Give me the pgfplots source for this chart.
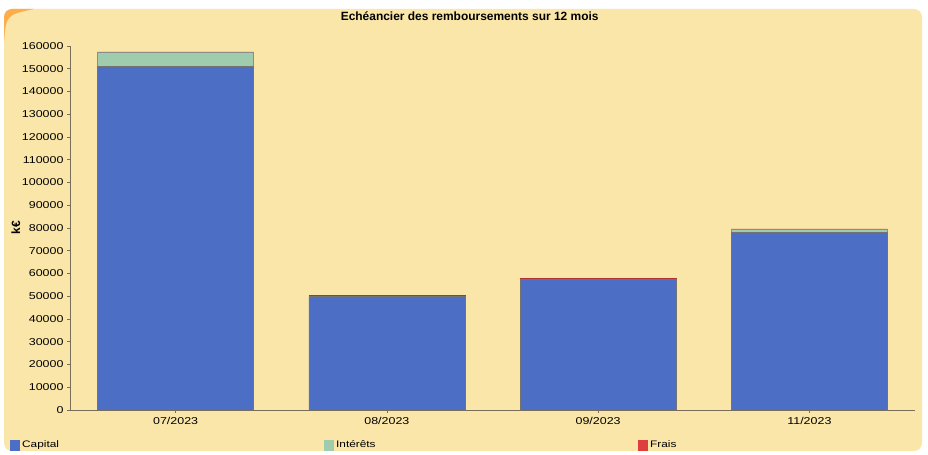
\documentclass[border=0pt]{standalone}
\usepackage{pgfplots}
\pgfplotsset{compat=1.18}
\usepackage{fontspec}
\setmainfont{Liberation Sans}
\newfontfamily\widefont[FakeStretch=1.25]{Liberation Sans}
\definecolor{bgyellow}{RGB}{250,230,168}
\definecolor{capcol}{RGB}{76,110,196}
\definecolor{intcol}{RGB}{158,204,172}
\definecolor{fraiscol}{RGB}{222,62,62}
\definecolor{axcol}{RGB}{120,110,90}
\begin{document}
\begin{tikzpicture}[x=1bp,y=1bp]
\useasboundingbox (0,0) rectangle (928,455);
\fill[white] (0,0) rectangle (928,455);
\fill[bgyellow, rounded corners=8bp] (4,4) rectangle (922,446);
\fill[orange!55!bgyellow] (4,412) .. controls (6,440) .. (34,446) -- (12,446) arc[start angle=90, end angle=180, radius=8] -- cycle;
\begin{axis}[
  at={(70bp,45bp)}, anchor=south west,
  scale only axis, width=845bp, height=364bp,
  xmin=-0.5, xmax=3.5, ymin=0, ymax=160000,
  axis x line*=bottom, axis y line*=left,
  axis line style={axcol, line width=0.6bp},
  ybar stacked, bar width=156bp,
  xtick={0,1,2,3}, xticklabels={07/2023,08/2023,09/2023,11/2023},
  ytick={0,10000,...,160000},
  scaled y ticks=false,
  /pgf/number format/assume math mode=true,
  yticklabel style={/pgf/number format/fixed, /pgf/number format/1000 sep={}},
  tick align=outside, major tick length=3bp,
  tick style={axcol, line width=0.5bp},
  tick label style={font=\widefont\fontsize{10}{11}\selectfont, black},
  xticklabel style={yshift=-1bp},
  ylabel={\bfseries k€},
  ylabel style={font=\fontsize{12}{14}\selectfont, at={(axis description cs:-0.064,0.5)}, anchor=center},
  title={Echéancier des remboursements sur 12 mois},
  title style={font=\bfseries\fontsize{12}{14}\selectfont, at={(axis description cs:0.473,1.066)}, anchor=center},
  legend columns=3,
  legend style={draw=none, fill=none, inner sep=0pt, font=\widefont\fontsize{9.5}{11}\selectfont,
    at={(axis description cs:-0.071,-0.095)}, anchor=west,
    /tikz/every even column/.append style={column sep=0bp}},
  legend image code/.code={\draw[#1, draw=none] (0bp,-6bp) rectangle (10bp,5bp);},
]
\addplot[draw=black!55, line width=0.4bp, fill=capcol]
  coordinates {(0,151000) (1,49800) (2,57300) (3,78100)};
\addlegendentry{\makebox[300bp][l]{Capital}}
\addplot[draw=black!45, line width=0.4bp, fill=intcol]
  coordinates {(0,6100) (1,200) (2,200) (3,1200)};
\addlegendentry{\makebox[300bp][l]{Intérêts}}
\addplot[draw=fraiscol!80!black, line width=0.4bp, fill=fraiscol]
  coordinates {(0,300) (1,300) (2,300) (3,300)};
\addlegendentry{Frais}
\end{axis}
\end{tikzpicture}
\end{document}
